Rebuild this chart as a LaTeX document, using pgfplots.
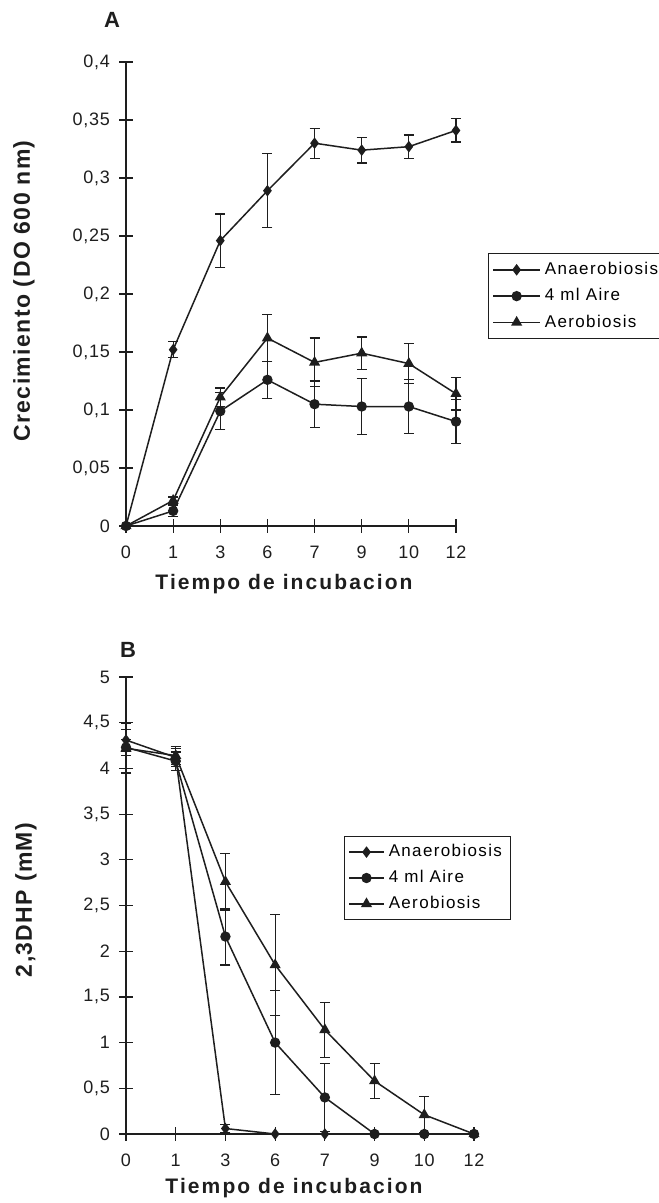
\documentclass[border=0pt]{standalone}
\usepackage{fontspec}
\setmainfont{Liberation Sans}
\newfontfamily\lblfont[LetterSpace=10]{Liberation Sans}
\newfontfamily\ylblfont[LetterSpace=6]{Liberation Sans}
\newfontfamily\legfont[LetterSpace=8]{Liberation Sans}
\newfontfamily\tickfont[LetterSpace=4]{Liberation Sans}
\usepackage{pgfplots}
\usepackage{pgfplotstable}
\pgfplotsset{compat=1.18}

% ---------- Panel A data ----------
\pgfplotstableread{
x y e
0 0     0
1 0.152 0.007
2 0.246 0.023
3 0.289 0.032
4 0.330 0.013
5 0.324 0.011
6 0.327 0.010
7 0.341 0.010
}\Aan
\pgfplotstableread{
x y e
0 0     0
1 0.013 0.005
2 0.099 0.016
3 0.126 0.016
4 0.105 0.020
5 0.103 0.024
6 0.103 0.023
7 0.090 0.019
}\Aai
\pgfplotstableread{
x y e
0 0     0
1 0.022 0.003
2 0.111 0.008
3 0.162 0.020
4 0.141 0.021
5 0.149 0.014
6 0.140 0.017
7 0.114 0.014
}\Aae
% ---------- Panel B data ----------
\pgfplotstableread{
x y e
0 4.31 0.12
1 4.12 0.10
2 0.06 0.04
3 0    0
4 0    0
5 0    0
6 0    0
7 0    0
}\Ban
\pgfplotstableread{
x y e
0 4.23 0.09
1 4.08 0.10
2 2.16 0.31
3 1.00 0.57
4 0.40 0.37
5 0    0
6 0    0
7 0    0
}\Bai
\pgfplotstableread{
x y e
0 4.22 0.27
1 4.14 0.10
2 2.76 0.31
3 1.85 0.55
4 1.14 0.30
5 0.58 0.19
6 0.21 0.20
7 0    0
}\Bae

\definecolor{ink}{HTML}{1E1E1E}

\pgfplotsset{
  myax/.style={
    scale only axis,
    axis lines=left,
    axis line style={-, line width=0.7pt, ink},
    clip=false,
    xmin=0, xmax=7,
    xtick={0,...,7},
    xticklabels={0,1,3,6,7,9,10,12},
    tick align=center,
    major tick length=7pt,
    tick style={line width=0.6pt, ink},
    ticklabel style={font=\tickfont\fontsize{9}{10}\selectfont, text=ink},
    yticklabel style={xshift=-1pt},
    xticklabel style={yshift=-3pt},
    /pgf/number format/assume math mode=true,
    legend cell align=left,
    legend image code/.code={%
      \draw[mark repeat=2,mark phase=2,##1] plot coordinates {(0pt,0pt) (11.75pt,0pt) (23.5pt,0pt)};},
  },
  ser/.style={
    line width=0.75pt, ink,
    mark options={fill=ink, draw=ink, solid},
    /pgfplots/error bars/y dir=both,
    /pgfplots/error bars/y explicit,
    /pgfplots/error bars/error bar style={line width=0.6pt, ink},
    /pgfplots/error bars/error mark options={rotate=90, mark size=2.5pt, line width=0.6pt, ink},
  },
}

\begin{document}
\begin{tikzpicture}
\useasboundingbox (0,0) rectangle (329pt,601.5pt);

% ---------------- Panel A ----------------
\begin{axis}[myax,
  at={(63pt,338.5pt)}, anchor=south west,
  width=165pt, height=232pt,
  ymin=0, ymax=0.4,
  ytick={0,0.05,0.1,0.15,0.2,0.25,0.3,0.35,0.4},
  yticklabels={0,{0,05},{0,1},{0,15},{0,2},{0,25},{0,3},{0,35},{0,4}},
  legend style={at={(1.097,0.588)}, anchor=north west, draw=ink,
    font=\legfont\fontsize{8.5}{10}\selectfont, row sep=1.5pt,
    inner xsep=2pt, inner ysep=2.3pt},
]
\addplot[ser, mark=diamond*, mark size=2.3pt] table[x=x,y=y,y error=e]{\Aan};
\addlegendentry{Anaerobiosis}
\addplot[ser, mark=*, mark size=2.2pt] table[x=x,y=y,y error=e]{\Aai};
\addlegendentry{4 ml Aire}
\addplot[ser, mark=triangle*, mark size=2.5pt] table[x=x,y=y,y error=e]{\Aae};
\addlegendentry{Aerobiosis}
\end{axis}

% ---------------- Panel B ----------------
\begin{axis}[myax,
  at={(63pt,34.5pt)}, anchor=south west,
  width=174pt, height=228.5pt,
  ymin=0, ymax=5,
  ytick={0,0.5,1,1.5,2,2.5,3,3.5,4,4.5,5},
  yticklabels={0,{0,5},1,{1,5},2,{2,5},3,{3,5},4,{4,5},5},
  legend style={at={(0.626,0.652)}, anchor=north west, draw=ink,
    font=\legfont\fontsize{8.5}{10}\selectfont, row sep=1.3pt,
    inner xsep=2pt, inner ysep=2pt},
  legend image code/.code={%
      \draw[mark repeat=2,mark phase=2,#1] plot coordinates {(0pt,0pt) (8.75pt,0pt) (17.5pt,0pt)};},
]
\addplot[ser, mark=diamond*, mark size=2.3pt] table[x=x,y=y,y error=e]{\Ban};
\addlegendentry{Anaerobiosis}
\addplot[ser, mark=*, mark size=2.2pt] table[x=x,y=y,y error=e]{\Bai};
\addlegendentry{4 ml Aire}
\addplot[ser, mark=triangle*, mark size=2.5pt] table[x=x,y=y,y error=e]{\Bae};
\addlegendentry{Aerobiosis}
\end{axis}

% ---------------- Labels ----------------
\node[font=\bfseries\fontsize{11}{12}\selectfont, text=ink] at (56pt,591.5pt) {A};
\node[font=\bfseries\fontsize{11}{12}\selectfont, text=ink] at (64pt,276.5pt) {B};
\node[font=\lblfont\bfseries\fontsize{10.5}{12}\selectfont, text=ink, anchor=base] at (142pt,306.5pt) {Tiempo de incubacion};
\node[font=\lblfont\bfseries\fontsize{10.5}{12}\selectfont, text=ink, anchor=base] at (147pt,5pt) {Tiempo de incubacion};
\node[font=\ylblfont\bfseries\fontsize{11.5}{13}\selectfont, text=ink, rotate=90] at (12pt,456pt) {Crecimiento (DO 600 nm)};
\node[font=\ylblfont\bfseries\fontsize{11.5}{13}\selectfont, text=ink, rotate=90] at (13pt,151.5pt) {2,3DHP (mM)};
\end{tikzpicture}
\end{document}
